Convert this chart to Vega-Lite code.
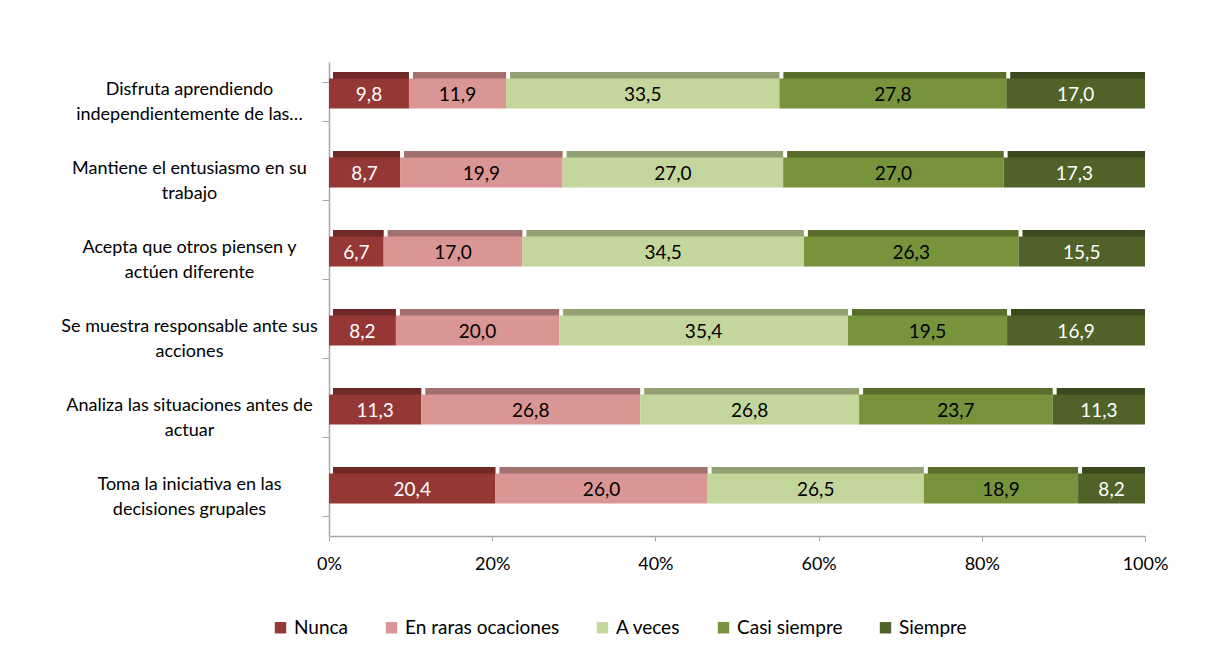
{
  "$schema": "https://vega.github.io/schema/vega-lite/v6.json",
  "width": 816,
  "height": 474,
  "autosize": {"type": "none"},
  "padding": {"left": 329, "top": 62, "right": 69, "bottom": 119},
  "background": "white",
  "config": {
    "view": {"stroke": null},
    "font": "Lato",
    "axis": {"labelFont": "Lato", "labelColor": "#000000", "grid": false}
  },
  "data": {
    "values": [
      {"cat": "Disfruta aprendiendo|independientemente de las…", "resp": "Nunca", "ord": 1, "value": 9.8},
      {"cat": "Disfruta aprendiendo|independientemente de las…", "resp": "En raras ocaciones", "ord": 2, "value": 11.9},
      {"cat": "Disfruta aprendiendo|independientemente de las…", "resp": "A veces", "ord": 3, "value": 33.5},
      {"cat": "Disfruta aprendiendo|independientemente de las…", "resp": "Casi siempre", "ord": 4, "value": 27.8},
      {"cat": "Disfruta aprendiendo|independientemente de las…", "resp": "Siempre", "ord": 5, "value": 17.0},
      {"cat": "Mantiene el entusiasmo en su|trabajo", "resp": "Nunca", "ord": 1, "value": 8.7},
      {"cat": "Mantiene el entusiasmo en su|trabajo", "resp": "En raras ocaciones", "ord": 2, "value": 19.9},
      {"cat": "Mantiene el entusiasmo en su|trabajo", "resp": "A veces", "ord": 3, "value": 27.0},
      {"cat": "Mantiene el entusiasmo en su|trabajo", "resp": "Casi siempre", "ord": 4, "value": 27.0},
      {"cat": "Mantiene el entusiasmo en su|trabajo", "resp": "Siempre", "ord": 5, "value": 17.3},
      {"cat": "Acepta que otros piensen y|actúen diferente", "resp": "Nunca", "ord": 1, "value": 6.7},
      {"cat": "Acepta que otros piensen y|actúen diferente", "resp": "En raras ocaciones", "ord": 2, "value": 17.0},
      {"cat": "Acepta que otros piensen y|actúen diferente", "resp": "A veces", "ord": 3, "value": 34.5},
      {"cat": "Acepta que otros piensen y|actúen diferente", "resp": "Casi siempre", "ord": 4, "value": 26.3},
      {"cat": "Acepta que otros piensen y|actúen diferente", "resp": "Siempre", "ord": 5, "value": 15.5},
      {"cat": "Se muestra responsable ante sus|acciones", "resp": "Nunca", "ord": 1, "value": 8.2},
      {"cat": "Se muestra responsable ante sus|acciones", "resp": "En raras ocaciones", "ord": 2, "value": 20.0},
      {"cat": "Se muestra responsable ante sus|acciones", "resp": "A veces", "ord": 3, "value": 35.4},
      {"cat": "Se muestra responsable ante sus|acciones", "resp": "Casi siempre", "ord": 4, "value": 19.5},
      {"cat": "Se muestra responsable ante sus|acciones", "resp": "Siempre", "ord": 5, "value": 16.9},
      {"cat": "Analiza las situaciones antes de|actuar", "resp": "Nunca", "ord": 1, "value": 11.3},
      {"cat": "Analiza las situaciones antes de|actuar", "resp": "En raras ocaciones", "ord": 2, "value": 26.8},
      {"cat": "Analiza las situaciones antes de|actuar", "resp": "A veces", "ord": 3, "value": 26.8},
      {"cat": "Analiza las situaciones antes de|actuar", "resp": "Casi siempre", "ord": 4, "value": 23.7},
      {"cat": "Analiza las situaciones antes de|actuar", "resp": "Siempre", "ord": 5, "value": 11.3},
      {"cat": "Toma la iniciativa en las|decisiones grupales", "resp": "Nunca", "ord": 1, "value": 20.4},
      {"cat": "Toma la iniciativa en las|decisiones grupales", "resp": "En raras ocaciones", "ord": 2, "value": 26.0},
      {"cat": "Toma la iniciativa en las|decisiones grupales", "resp": "A veces", "ord": 3, "value": 26.5},
      {"cat": "Toma la iniciativa en las|decisiones grupales", "resp": "Casi siempre", "ord": 4, "value": 18.9},
      {"cat": "Toma la iniciativa en las|decisiones grupales", "resp": "Siempre", "ord": 5, "value": 8.2}
    ]
  },
  "transform": [
    {"stack": "value", "groupby": ["cat"], "sort": [{"field": "ord", "order": "ascending"}], "offset": "normalize", "as": ["v0", "v1"]},
    {"calculate": "(datum.v0 + datum.v1) / 2", "as": "mid"},
    {"calculate": "replace(format(datum.value, '.1f'), '.', ',')", "as": "lbl"}
  ],
  "encoding": {
    "y": {
      "field": "cat",
      "type": "nominal",
      "sort": null,
      "title": null,
      "scale": {"paddingInner": 0.5, "paddingOuter": 0.25},
      "axis": {
        "labelExpr": "split(datum.label, '|')",
        "labelAlign": "center",
        "labelPadding": 133,
        "labelFontSize": 18,
        "labelLineHeight": 25,
        "labelOffset": -12,
        "labelLimit": 400,
        "tickBand": "extent",
        "tickColor": "#a6a6a6",
        "tickSize": 7,
        "domainColor": "#a6a6a6",
        "domainWidth": 1.5
      }
    }
  },
  "layer": [
    {
      "mark": {"type": "bar", "size": 7, "yOffset": -26, "xOffset": 4},
      "encoding": {
        "x": {"field": "v0", "type": "quantitative"},
        "x2": {"field": "v1"},
        "color": {"field": "resp", "type": "nominal", "sort": ["Nunca", "En raras ocaciones", "A veces", "Casi siempre", "Siempre"]}
      }
    },
    {
      "mark": {"type": "bar", "size": 7, "yOffset": -26, "xOffset": 4, "color": "#000000", "opacity": 0.25},
      "encoding": {
        "x": {"field": "v0", "type": "quantitative"},
        "x2": {"field": "v1"}
      }
    },
    {
      "mark": {"type": "bar", "size": 30, "yOffset": -8},
      "encoding": {
        "x": {
          "field": "v0",
          "type": "quantitative",
          "scale": {"domain": [0, 1], "nice": false},
          "title": null,
          "axis": {
            "format": ".0%",
            "values": [0, 0.2, 0.4, 0.6, 0.8, 1],
            "labelFontSize": 18,
            "labelPadding": 14,
            "ticks": true,
            "tickSize": 5,
            "tickColor": "#a6a6a6",
            "domainColor": "#a6a6a6",
            "domainWidth": 1.5,
            "labelFlush": false
          }
        },
        "x2": {"field": "v1"},
        "color": {
          "field": "resp",
          "type": "nominal",
          "sort": ["Nunca", "En raras ocaciones", "A veces", "Casi siempre", "Siempre"],
          "scale": {
            "domain": ["Nunca", "En raras ocaciones", "A veces", "Casi siempre", "Siempre"],
            "range": ["#953735", "#D99694", "#C3D69B", "#77933C", "#4F6228"]
          },
          "legend": {
            "title": null,
            "orient": "none",
            "direction": "horizontal",
            "legendX": -58,
            "legendY": 556,
            "symbolType": "square",
            "symbolSize": 130,
            "symbolStrokeWidth": 0,
            "labelFontSize": 19,
            "labelFont": "Lato",
            "labelColor": "#000000",
            "labelLimit": 300,
            "columnPadding": 33,
            "labelOffset": 4
          }
        }
      }
    },
    {
      "mark": {"type": "text", "fontSize": 19, "yOffset": -7, "baseline": "middle"},
      "encoding": {
        "x": {"field": "mid", "type": "quantitative"},
        "text": {"field": "lbl"},
        "color": {
          "condition": {"test": "datum.resp == 'Nunca' || datum.resp == 'Siempre'", "value": "#ffffff"},
          "value": "#000000"
        }
      }
    }
  ]
}
